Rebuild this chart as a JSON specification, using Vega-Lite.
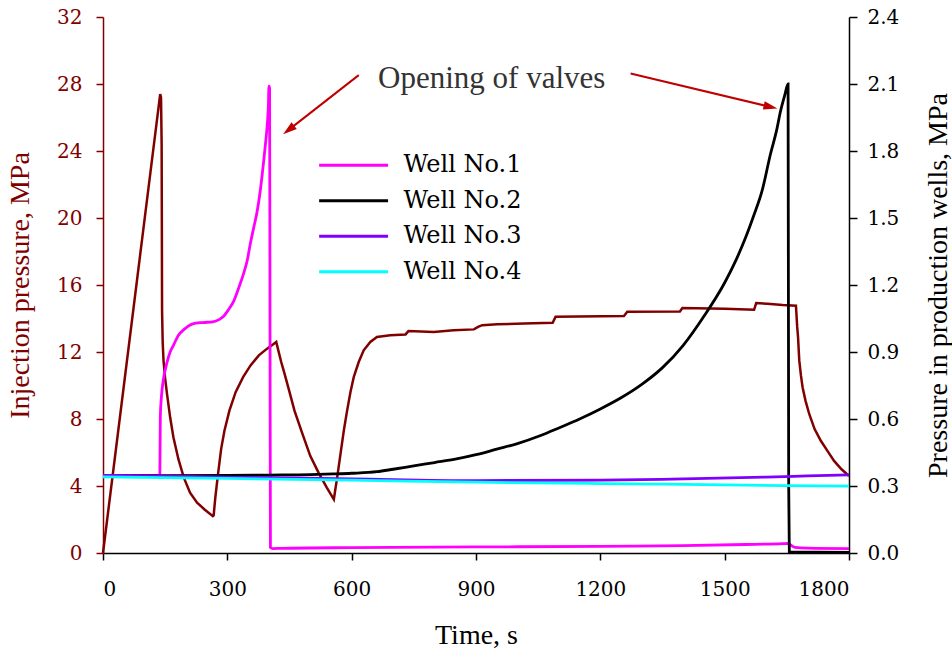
{
  "$schema": "https://vega.github.io/schema/vega-lite/v6.json",
  "width": 746,
  "height": 536,
  "autosize": {"type": "none"},
  "padding": {"left": 103, "top": 17, "right": 103, "bottom": 100},
  "background": "white",
  "config": {
    "view": {"stroke": null},
    "font": "Liberation Serif",
    "axis": {
      "grid": false,
      "labelFont": "DejaVu Serif",
      "titleFont": "Liberation Serif",
      "labelFontSize": 20,
      "titleFontSize": 28,
      "titleFontWeight": "normal",
      "tickSize": 7,
      "domainWidth": 1.5,
      "tickWidth": 1.5
    }
  },
  "datasets": {
    "inj": [
      {"t": 0, "p": 0}, {"t": 138, "p": 27.4}, {"t": 140, "p": 27.2}, {"t": 141.5, "p": 24.4},
      {"t": 142.5, "p": 14.5}, {"t": 144, "p": 12.6}, {"t": 146, "p": 11.5}, {"t": 150, "p": 10.4},
      {"t": 155, "p": 9.4}, {"t": 162, "p": 8.1}, {"t": 170, "p": 6.9}, {"t": 182, "p": 5.6},
      {"t": 195, "p": 4.5}, {"t": 210, "p": 3.6}, {"t": 227, "p": 3.0}, {"t": 245, "p": 2.6},
      {"t": 265, "p": 2.2}, {"t": 267, "p": 2.25}, {"t": 271, "p": 3.3}, {"t": 277, "p": 4.6},
      {"t": 285, "p": 6.2}, {"t": 293, "p": 7.3}, {"t": 305, "p": 8.5}, {"t": 320, "p": 9.6},
      {"t": 338, "p": 10.5}, {"t": 356, "p": 11.2}, {"t": 376, "p": 11.8}, {"t": 396, "p": 12.2},
      {"t": 410, "p": 12.45}, {"t": 418, "p": 12.6}, {"t": 423, "p": 12.1}, {"t": 430, "p": 11.4},
      {"t": 437, "p": 10.8}, {"t": 448, "p": 9.8}, {"t": 462, "p": 8.5}, {"t": 480, "p": 7.2},
      {"t": 500, "p": 5.8}, {"t": 520, "p": 4.8}, {"t": 540, "p": 3.9}, {"t": 557, "p": 3.2},
      {"t": 560, "p": 3.7}, {"t": 565, "p": 4.5}, {"t": 573, "p": 5.9}, {"t": 581, "p": 7.3},
      {"t": 589, "p": 8.5}, {"t": 597, "p": 9.6}, {"t": 605, "p": 10.5}, {"t": 617, "p": 11.4},
      {"t": 629, "p": 12.1}, {"t": 645, "p": 12.6}, {"t": 661, "p": 12.9}, {"t": 693, "p": 13.0},
      {"t": 730, "p": 13.05}, {"t": 737, "p": 13.25}, {"t": 798, "p": 13.2}, {"t": 846, "p": 13.3},
      {"t": 895, "p": 13.35}, {"t": 905, "p": 13.5}, {"t": 915, "p": 13.6}, {"t": 951, "p": 13.65},
      {"t": 1016, "p": 13.7}, {"t": 1085, "p": 13.75}, {"t": 1092, "p": 14.1}, {"t": 1257, "p": 14.15},
      {"t": 1265, "p": 14.4}, {"t": 1392, "p": 14.42}, {"t": 1398, "p": 14.62}, {"t": 1500, "p": 14.58},
      {"t": 1571, "p": 14.52}, {"t": 1576, "p": 14.92}, {"t": 1603, "p": 14.88}, {"t": 1640, "p": 14.8},
      {"t": 1672, "p": 14.76}, {"t": 1675, "p": 13.5}, {"t": 1677, "p": 12.9}, {"t": 1680, "p": 11.5},
      {"t": 1684, "p": 10.6}, {"t": 1688, "p": 9.9}, {"t": 1695, "p": 9.1}, {"t": 1704, "p": 8.3},
      {"t": 1717, "p": 7.4}, {"t": 1732, "p": 6.7}, {"t": 1748, "p": 6.1}, {"t": 1764, "p": 5.5},
      {"t": 1782, "p": 5.0}, {"t": 1800, "p": 4.6}
    ],
    "wells": [
      {"well": "Well No.1", "t": 0, "v": 0.348}, {"well": "Well No.1", "t": 137, "v": 0.348},
      {"well": "Well No.1", "t": 138.5, "v": 0.62}, {"well": "Well No.1", "t": 141, "v": 0.70},
      {"well": "Well No.1", "t": 146, "v": 0.78}, {"well": "Well No.1", "t": 154, "v": 0.85},
      {"well": "Well No.1", "t": 162, "v": 0.90}, {"well": "Well No.1", "t": 170, "v": 0.93},
      {"well": "Well No.1", "t": 182, "v": 0.975}, {"well": "Well No.1", "t": 195, "v": 1.0},
      {"well": "Well No.1", "t": 215, "v": 1.025}, {"well": "Well No.1", "t": 240, "v": 1.032},
      {"well": "Well No.1", "t": 265, "v": 1.035}, {"well": "Well No.1", "t": 280, "v": 1.045},
      {"well": "Well No.1", "t": 291, "v": 1.06}, {"well": "Well No.1", "t": 303, "v": 1.09},
      {"well": "Well No.1", "t": 316, "v": 1.13}, {"well": "Well No.1", "t": 328, "v": 1.19},
      {"well": "Well No.1", "t": 339, "v": 1.25}, {"well": "Well No.1", "t": 348, "v": 1.31},
      {"well": "Well No.1", "t": 356, "v": 1.39}, {"well": "Well No.1", "t": 364, "v": 1.46},
      {"well": "Well No.1", "t": 372, "v": 1.53}, {"well": "Well No.1", "t": 380, "v": 1.63},
      {"well": "Well No.1", "t": 388, "v": 1.76}, {"well": "Well No.1", "t": 393, "v": 1.85},
      {"well": "Well No.1", "t": 396, "v": 1.91}, {"well": "Well No.1", "t": 399, "v": 2.0},
      {"well": "Well No.1", "t": 400.5, "v": 2.09}, {"well": "Well No.1", "t": 402, "v": 2.08},
      {"well": "Well No.1", "t": 403, "v": 1.0}, {"well": "Well No.1", "t": 404, "v": 0.025},
      {"well": "Well No.1", "t": 410, "v": 0.02}, {"well": "Well No.1", "t": 430, "v": 0.021},
      {"well": "Well No.1", "t": 600, "v": 0.024}, {"well": "Well No.1", "t": 800, "v": 0.026},
      {"well": "Well No.1", "t": 1000, "v": 0.028}, {"well": "Well No.1", "t": 1200, "v": 0.03},
      {"well": "Well No.1", "t": 1400, "v": 0.033}, {"well": "Well No.1", "t": 1550, "v": 0.038},
      {"well": "Well No.1", "t": 1640, "v": 0.042}, {"well": "Well No.1", "t": 1654, "v": 0.043},
      {"well": "Well No.1", "t": 1660, "v": 0.035}, {"well": "Well No.1", "t": 1670, "v": 0.025},
      {"well": "Well No.1", "t": 1700, "v": 0.022}, {"well": "Well No.1", "t": 1800, "v": 0.02},

      {"well": "Well No.2", "t": 0, "v": 0.345}, {"well": "Well No.2", "t": 300, "v": 0.347},
      {"well": "Well No.2", "t": 400, "v": 0.349}, {"well": "Well No.2", "t": 500, "v": 0.351},
      {"well": "Well No.2", "t": 556, "v": 0.354}, {"well": "Well No.2", "t": 600, "v": 0.357},
      {"well": "Well No.2", "t": 661, "v": 0.364}, {"well": "Well No.2", "t": 700, "v": 0.375},
      {"well": "Well No.2", "t": 750, "v": 0.39}, {"well": "Well No.2", "t": 800, "v": 0.405},
      {"well": "Well No.2", "t": 850, "v": 0.42}, {"well": "Well No.2", "t": 900, "v": 0.44},
      {"well": "Well No.2", "t": 950, "v": 0.465}, {"well": "Well No.2", "t": 1000, "v": 0.49},
      {"well": "Well No.2", "t": 1056, "v": 0.526}, {"well": "Well No.2", "t": 1100, "v": 0.56},
      {"well": "Well No.2", "t": 1150, "v": 0.60}, {"well": "Well No.2", "t": 1200, "v": 0.645},
      {"well": "Well No.2", "t": 1250, "v": 0.695}, {"well": "Well No.2", "t": 1300, "v": 0.755},
      {"well": "Well No.2", "t": 1350, "v": 0.83}, {"well": "Well No.2", "t": 1400, "v": 0.93},
      {"well": "Well No.2", "t": 1450, "v": 1.06}, {"well": "Well No.2", "t": 1500, "v": 1.21},
      {"well": "Well No.2", "t": 1527, "v": 1.31}, {"well": "Well No.2", "t": 1550, "v": 1.41},
      {"well": "Well No.2", "t": 1570, "v": 1.51}, {"well": "Well No.2", "t": 1590, "v": 1.62},
      {"well": "Well No.2", "t": 1611, "v": 1.79}, {"well": "Well No.2", "t": 1625, "v": 1.89},
      {"well": "Well No.2", "t": 1635, "v": 1.98}, {"well": "Well No.2", "t": 1645, "v": 2.05},
      {"well": "Well No.2", "t": 1653, "v": 2.10}, {"well": "Well No.2", "t": 1654.5, "v": 0.3},
      {"well": "Well No.2", "t": 1656, "v": 0.005}, {"well": "Well No.2", "t": 1800, "v": 0.003},

      {"well": "Well No.3", "t": 0, "v": 0.348}, {"well": "Well No.3", "t": 300, "v": 0.34},
      {"well": "Well No.3", "t": 600, "v": 0.332}, {"well": "Well No.3", "t": 900, "v": 0.324},
      {"well": "Well No.3", "t": 1200, "v": 0.326}, {"well": "Well No.3", "t": 1400, "v": 0.332},
      {"well": "Well No.3", "t": 1600, "v": 0.34}, {"well": "Well No.3", "t": 1700, "v": 0.345},
      {"well": "Well No.3", "t": 1800, "v": 0.35},

      {"well": "Well No.4", "t": 0, "v": 0.341}, {"well": "Well No.4", "t": 300, "v": 0.334},
      {"well": "Well No.4", "t": 600, "v": 0.326}, {"well": "Well No.4", "t": 900, "v": 0.317},
      {"well": "Well No.4", "t": 1200, "v": 0.311}, {"well": "Well No.4", "t": 1500, "v": 0.305},
      {"well": "Well No.4", "t": 1800, "v": 0.299}
    ],
    "arrows": [
      {"t": 617.1, "p": 28.53, "t2": 447.9, "p2": 25.26},
      {"t": 1273, "p": 28.63, "t2": 1610.8, "p2": 26.63}
    ],
    "heads": [
      {"t": 447.9, "p": 25.26, "angle": 232},
      {"t": 1610.8, "p": 26.63, "angle": 103.4}
    ],
    "label": [
      {"t": 937.9, "p": 27.75, "text": "Opening of valves"}
    ]
  },
  "layer": [
    {
      "layer": [
        {
          "data": {"name": "inj"},
          "mark": {"type": "line", "color": "#800000", "strokeWidth": 2.5},
          "encoding": {
            "x": {
              "field": "t", "type": "quantitative",
              "scale": {"domain": [0, 1800], "nice": false},
              "axis": {
                "values": [0, 300, 600, 900, 1200, 1500, 1800],
                "format": "d",
                "title": "Time, s",
                "labelFont": "DejaVu Serif", "titleFont": "Liberation Serif",
                "labelFontSize": 20, "titleFontSize": 28,
                "labelPadding": 19, "titlePadding": 22,
                "domainColor": "black", "tickColor": "black",
                "labelColor": "black", "titleColor": "black"
              }
            },
            "y": {
              "field": "p", "type": "quantitative",
              "scale": {"domain": [0, 32], "nice": false},
              "axis": {
                "orient": "left",
                "values": [0, 4, 8, 12, 16, 20, 24, 28, 32],
                "format": "d",
                "title": "Injection pressure, MPa",
                "labelFont": "DejaVu Serif", "titleFont": "Liberation Serif",
                "labelFontSize": 20, "titleFontSize": 28,
                "labelPadding": 14, "titlePadding": 22,
                "domainColor": "#800000", "tickColor": "#800000",
                "labelColor": "#800000", "titleColor": "#800000"
              }
            }
          }
        },
        {
          "data": {"name": "arrows"},
          "mark": {"type": "rule", "color": "#c00000", "strokeWidth": 2},
          "encoding": {
            "x": {"field": "t", "type": "quantitative"},
            "y": {"field": "p", "type": "quantitative"},
            "x2": {"field": "t2"},
            "y2": {"field": "p2"}
          }
        },
        {
          "data": {"name": "heads"},
          "mark": {"type": "point", "shape": "M0,-1L-0.6,1L0.6,1Z", "filled": true, "color": "#c00000", "opacity": 1, "size": 196, "strokeWidth": 0},
          "encoding": {
            "x": {"field": "t", "type": "quantitative"},
            "y": {"field": "p", "type": "quantitative"},
            "angle": {"field": "angle", "type": "quantitative", "scale": null}
          }
        },
        {
          "data": {"name": "label"},
          "mark": {"type": "text", "font": "Liberation Serif", "fontSize": 31, "color": "#333333", "align": "center", "baseline": "alphabetic"},
          "encoding": {
            "x": {"field": "t", "type": "quantitative"},
            "y": {"field": "p", "type": "quantitative"},
            "text": {"field": "text"}
          }
        }
      ]
    },
    {
      "data": {"name": "wells"},
      "mark": {"type": "line", "strokeWidth": 2.8, "interpolate": "monotone"},
      "encoding": {
        "x": {"field": "t", "type": "quantitative"},
        "y": {
          "field": "v", "type": "quantitative",
          "scale": {"domain": [0, 2.4], "nice": false},
          "axis": {
            "orient": "right",
            "values": [0, 0.3, 0.6, 0.9, 1.2, 1.5, 1.8, 2.1, 2.4],
            "format": ".1f",
            "title": "Pressure in production wells, MPa",
            "labelFont": "DejaVu Serif", "titleFont": "Liberation Serif",
            "labelFontSize": 20, "titleFontSize": 28,
            "tickSize": 8, "labelPadding": 10, "titlePadding": 26,
            "titleAngle": 270, "titleBaseline": "top",
            "domainColor": "black", "tickColor": "black",
            "labelColor": "black", "titleColor": "black"
          }
        },
        "color": {
          "field": "well", "type": "nominal",
          "scale": {
            "domain": ["Well No.1", "Well No.2", "Well No.3", "Well No.4"],
            "range": ["#ff00ff", "#000000", "#8000ff", "#00ffff"]
          },
          "legend": {
            "orient": "none", "legendX": 238.6, "legendY": 136.3,
            "title": null, "padding": 0,
            "labelFont": "DejaVu Serif", "labelFontSize": 24, "labelColor": "black",
            "symbolType": "M-5,0H5", "symbolSize": 190, "symbolStrokeWidth": 3,
            "labelOffset": 38, "rowPadding": 11.5
          }
        }
      }
    }
  ],
  "resolve": {"scale": {"y": "independent"}}
}
